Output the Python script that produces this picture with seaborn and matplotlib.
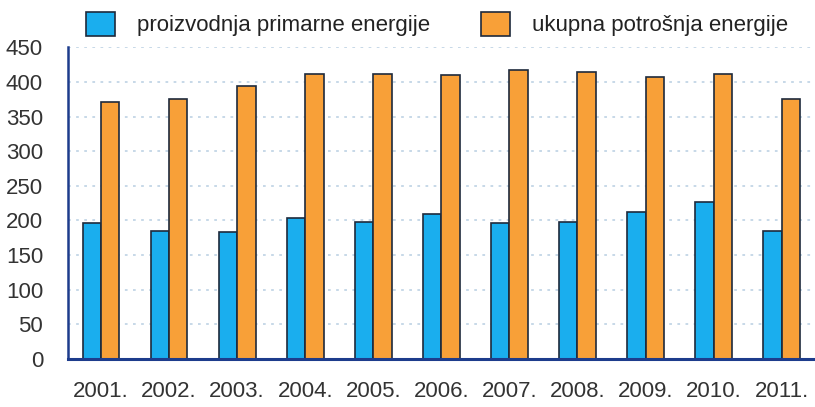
import matplotlib
matplotlib.use("Agg")
import matplotlib.pyplot as plt
import seaborn as sns
import pandas as pd
from matplotlib.patches import Patch

years = ["2001.", "2002.", "2003.", "2004.", "2005.", "2006.", "2007.", "2008.", "2009.", "2010.", "2011."]
proizvodnja = [196, 185, 183, 203, 198, 209, 197, 198, 212, 227, 185]
potrosnja = [371, 375, 394, 411, 411, 410, 417, 414, 407, 411, 375]
series_names = ["proizvodnja primarne energije", "ukupna potrošnja energije"]
y_ticks = [0, 50, 100, 150, 200, 250, 300, 350, 400, 450]

df = pd.DataFrame({
    "godina": years * 2,
    "vrijednost": proizvodnja + potrosnja,
    "serija": [series_names[0]] * len(years) + [series_names[1]] * len(years),
})

sns.set_style("white")
plt.rcParams["font.family"] = ["Liberation Sans", "DejaVu Sans"]

BLUE = "#1aaeee"
ORANGE = "#f8a038"
EDGE = "#1e2a3c"
AXIS = "#1d3c8c"
GRID = "#c3d6e6"

fig = plt.figure(figsize=(8.15, 4.07), dpi=100)
ax = fig.add_axes([68 / 815, 1 - 359 / 407, (815 - 68) / 815, (359 - 47.3) / 407])

sns.barplot(data=df, x="godina", y="vrijednost", hue="serija", order=years,
            hue_order=series_names, palette=[BLUE, ORANGE], saturation=1,
            width=0.54, gap=0, edgecolor=EDGE, linewidth=1.2, ax=ax,
            legend=False, zorder=3)

ax.set_xlim(-0.485, 10.49)
ax.set_ylim(0, 450)
ax.set_yticks(y_ticks)
ax.set_xlabel("")
ax.set_ylabel("")

for y in y_ticks[1:]:
    ax.axhline(y, color=GRID, lw=1.3, ls=(0, (1.5, 3)), zorder=1)

for s in ["top", "right"]:
    ax.spines[s].set_visible(False)
ax.spines["left"].set_color(AXIS)
ax.spines["left"].set_linewidth(1.8)
ax.spines["bottom"].set_color(AXIS)
ax.spines["bottom"].set_linewidth(2.2)
ax.spines["bottom"].set_zorder(5)

ax.tick_params(axis="y", direction="inout", length=20, width=2, color=AXIS,
               labelsize=16, labelcolor="#333333", pad=8)
ax.tick_params(axis="x", length=0, labelsize=16, labelcolor="#333333", pad=16)
for t in ax.yaxis.get_major_ticks():
    t.tick1line.set_clip_on(False)

handles = [Patch(facecolor=BLUE, edgecolor=EDGE, linewidth=1.2),
           Patch(facecolor=ORANGE, edgecolor=EDGE, linewidth=1.2)]
fig.legend(handles, series_names, loc="center left", bbox_to_anchor=(86 / 815, 1 - 24 / 407),
           ncol=2, frameon=False, fontsize=16, handlelength=1.3, handleheight=1.3,
           handletextpad=1.0, columnspacing=2.3, borderpad=0, borderaxespad=0,
           labelcolor="#222222")

fig.savefig("out.png", dpi=100)
